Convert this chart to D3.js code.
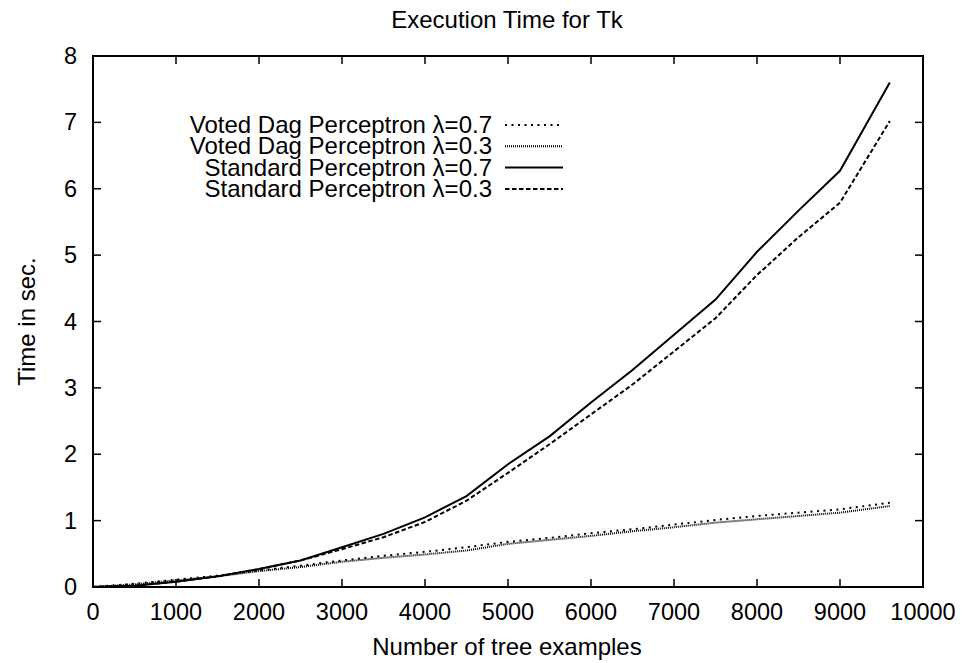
<!DOCTYPE html>
<html>
<head>
<meta charset="utf-8">
<script src="https://cdn.jsdelivr.net/npm/d3@7"></script>
<style>
  body { margin: 0; background: #fff; }
  text { font-family: "Liberation Sans", Arial, sans-serif; font-size: 24px; fill: #000; }
  text.tick { font-size: 23.5px; }
</style>
</head>
<body>
<div id="my_dataviz"></div>
<script>

// values
var examples = [0, 500, 1000, 1500, 2000, 2500, 3000, 3500, 4000, 4500, 5000, 5500, 6000, 6500, 7000, 7500, 8000, 8500, 9000, 9600]
var voted_07 = [0, 0.05, 0.11, 0.17, 0.25, 0.32, 0.40, 0.47, 0.53, 0.60, 0.68, 0.74, 0.81, 0.87, 0.94, 1.01, 1.07, 1.12, 1.17, 1.27]
var voted_03 = [0, 0.04, 0.10, 0.16, 0.24, 0.30, 0.38, 0.44, 0.49, 0.55, 0.65, 0.71, 0.77, 0.84, 0.90, 0.97, 1.02, 1.07, 1.12, 1.22]
var standard_07 = [0, 0.02, 0.08, 0.16, 0.27, 0.40, 0.60, 0.80, 1.05, 1.37, 1.85, 2.27, 2.78, 3.27, 3.80, 4.33, 5.05, 5.67, 6.27, 7.60]
var standard_03 = [0, 0.02, 0.08, 0.16, 0.27, 0.40, 0.57, 0.75, 0.98, 1.30, 1.72, 2.15, 2.60, 3.05, 3.55, 4.05, 4.70, 5.27, 5.79, 7.02]

var xTicks = [0, 1000, 2000, 3000, 4000, 5000, 6000, 7000, 8000, 9000, 10000]
var yTicks = [0, 1, 2, 3, 4, 5, 6, 7, 8]

var seriesNames = ["Voted Dag Perceptron \u03bb=0.7", "Voted Dag Perceptron \u03bb=0.3", "Standard Perceptron \u03bb=0.7", "Standard Perceptron \u03bb=0.3"]
var seriesValues = [voted_07, voted_03, standard_07, standard_03]
var seriesDash = ["2,4.5", "1,1", null, "4.5,2.5"]

// plot box (gnuplot style frame)
var width = 962,
    height = 663,
    mLeft = 93, mRight = 923, mTop = 56, mBottom = 587

var svg = d3.select("#my_dataviz")
  .append("svg")
  .attr("width", width)
  .attr("height", height)

var x = d3.scaleLinear().domain([0, 10000]).range([mLeft, mRight])
var y = d3.scaleLinear().domain([0, 8]).range([mBottom, mTop])

// ticks on all four sides, pointing inward
var tickLen = 8
var ticks = svg.append("g").attr("stroke", "#000").attr("stroke-width", 1.5)
xTicks.forEach(function(t) {
  ticks.append("line").attr("x1", x(t)).attr("x2", x(t)).attr("y1", mBottom).attr("y2", mBottom - tickLen)
  ticks.append("line").attr("x1", x(t)).attr("x2", x(t)).attr("y1", mTop).attr("y2", mTop + tickLen)
})
yTicks.forEach(function(t) {
  ticks.append("line").attr("x1", mLeft).attr("x2", mLeft + tickLen).attr("y1", y(t)).attr("y2", y(t))
  ticks.append("line").attr("x1", mRight).attr("x2", mRight - tickLen).attr("y1", y(t)).attr("y2", y(t))
})

svg.selectAll(".xlab")
  .data(xTicks)
  .enter()
  .append("text")
  .attr("class", "tick")
  .attr("x", function(d) { return x(d) })
  .attr("y", mBottom + 33)
  .style("text-anchor", "middle")
  .text(function(d) { return d })

svg.selectAll(".ylab")
  .data(yTicks)
  .enter()
  .append("text")
  .attr("class", "tick")
  .attr("x", mLeft - 16)
  .attr("y", function(d) { return y(d) + 8 })
  .style("text-anchor", "end")
  .text(function(d) { return d })

// curves
var line = d3.line()
  .x(function(d, i) { return x(examples[i]) })
  .y(function(d) { return y(d) })

seriesValues.forEach(function(vals, i) {
  svg.append("path")
    .attr("d", line(vals))
    .attr("fill", "none")
    .attr("stroke", "#000")
    .attr("stroke-width", 2)
    .attr("stroke-dasharray", seriesDash[i])
})

// frame
svg.append("rect")
  .attr("x", mLeft).attr("y", mTop)
  .attr("width", mRight - mLeft).attr("height", mBottom - mTop)
  .attr("fill", "none")
  .attr("stroke", "#000")
  .attr("stroke-width", 2)

// legend
seriesNames.forEach(function(name, i) {
  var ly = 125 + i * 21.3
  svg.append("text")
    .attr("x", 492)
    .attr("y", ly + 8)
    .style("text-anchor", "end")
    .text(name)
  svg.append("line")
    .attr("x1", 505).attr("x2", 563)
    .attr("y1", ly).attr("y2", ly)
    .attr("stroke", "#000")
    .attr("stroke-width", 2)
    .attr("stroke-dasharray", seriesDash[i])
})

// titles
svg.append("text")
  .attr("x", 507).attr("y", 28)
  .style("text-anchor", "middle")
  .text("Execution Time for Tk")

svg.append("text")
  .attr("x", 507).attr("y", 655)
  .style("text-anchor", "middle")
  .text("Number of tree examples")

svg.append("text")
  .attr("transform", "translate(35," + ((mTop + mBottom) / 2) + ") rotate(-90)")
  .style("text-anchor", "middle")
  .text("Time in sec.")

</script>
</body>
</html>
